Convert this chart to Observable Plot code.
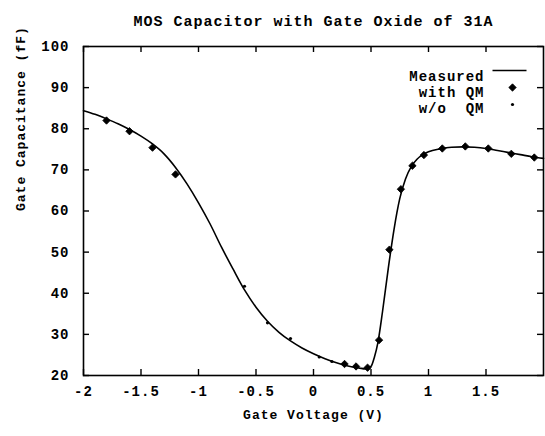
<!DOCTYPE html>
<html><head><meta charset="utf-8">
<script src="https://cdn.jsdelivr.net/npm/d3@7"></script>
<script src="https://cdn.jsdelivr.net/npm/@observablehq/plot@0.6"></script>
<style>
body{margin:0;background:#fff}
svg text{white-space:pre;letter-spacing:1px}
</style>
</head><body><div id="chart"></div>
<script>
// Measured curve
const measuredV = [-2.0,-1.9,-1.8,-1.7,-1.6,-1.5,-1.4,-1.3,-1.2,-1.1,-1.0,-0.9,-0.8,-0.7,-0.6,-0.5,-0.4,-0.3,-0.2,-0.1,0.0,0.1,0.2,0.3,0.4,0.45,0.5,0.53,0.56,0.6,0.65,0.7,0.75,0.8,0.85,0.9,0.95,1.0,1.1,1.2,1.3,1.4,1.5,1.6,1.7,1.8,1.9,2.0];
const measuredC = [84.4,83.5,82.4,81.2,79.8,78.2,76.3,73.9,70.6,66.6,62.0,56.9,51.2,45.9,40.8,36.6,33.2,30.5,28.4,26.7,25.3,24.1,23.1,22.3,21.8,21.6,22.2,24.5,28.0,35.5,46.0,55.5,63.0,67.8,70.8,72.6,73.7,74.4,75.1,75.5,75.6,75.5,75.2,74.7,74.2,73.7,73.2,72.8];
// with QM (diamonds)
const withQMV = [-1.8,-1.6,-1.4,-1.2,0.27,0.37,0.47,0.57,0.66,0.76,0.86,0.96,1.12,1.32,1.52,1.72,1.92];
const withQMC = [82.0,79.4,75.4,68.9,22.8,22.2,21.9,28.6,50.6,65.3,71.0,73.6,75.2,75.7,75.2,73.9,73.0];
// w/o QM (small dots)
const woQMV = [-0.6,-0.4,-0.2,0.05,0.16];
const woQMC = [41.7,32.8,29.0,24.5,23.4];

const xTicks = [-2,-1.5,-1,-0.5,0,0.5,1,1.5];
const yTicks = [20,30,40,50,60,70,80,90,100];
const titleText = "MOS Capacitor with Gate Oxide of 31A";
const xLabel = "Gate Voltage (V)";
const yLabel = "Gate Capacitance (fF)";
const legendLabels = ["Measured","with QM","w/o  QM"];

const measured = measuredV.map((v,i)=>({v, c: measuredC[i]}));
const withQM = withQMV.map((v,i)=>({v, c: withQMC[i]}));
const woQM = woQMV.map((v,i)=>({v, c: woQMC[i]}));

const W=545, H=436, mt=46, mb=61, ml=83, mr=2;
const fh = H-mt-mb, fw = W-ml-mr;
const font = "'Liberation Mono','DejaVu Sans Mono',monospace";
const lineSym = {draw(ctx){ ctx.moveTo(-17,0); ctx.lineTo(17,0); }};
const diamondSym = {draw(ctx){ const r = 3.7; ctx.moveTo(0,-r); ctx.lineTo(r,0); ctx.lineTo(0,r); ctx.lineTo(-r,0); ctx.closePath(); }};

const chart = Plot.plot({
  width: W, height: H,
  marginTop: mt, marginBottom: mb, marginLeft: ml, marginRight: mr,
  style: {fontFamily: font, fontWeight: "bold", fontSize: "14px", color: "black", background: "white"},
  x: {domain: [-2, 2]},
  y: {domain: [20, 100]},
  marks: [
    Plot.frame({stroke: "black", strokeWidth: 1.6}),
    Plot.axisX(xTicks, {tickSize: 0, tickPadding: 11, tickFormat: d => String(d), fontSize: 14, fontWeight: "bold", label: null}),
    Plot.axisY(yTicks, {tickSize: 0, tickPadding: 14, tickFormat: d => String(d), fontSize: 14, fontWeight: "bold", label: null}),
    Plot.tickX(xTicks, {x: d => d, insetTop: fh - 6, stroke: "black", strokeWidth: 1.4}),
    Plot.tickX(xTicks, {x: d => d, insetBottom: fh - 6, stroke: "black", strokeWidth: 1.4}),
    Plot.tickY(yTicks, {y: d => d, insetRight: fw - 6, stroke: "black", strokeWidth: 1.4}),
    Plot.tickY(yTicks, {y: d => d, insetLeft: fw - 6, stroke: "black", strokeWidth: 1.4}),
    Plot.line(measured, {x: "v", y: "c", stroke: "black", strokeWidth: 1.6, curve: "monotone-x"}),
    Plot.dot(withQM, {x: "v", y: "c", symbol: diamondSym, fill: "black", stroke: "black", strokeWidth: 0.8}),
    Plot.dot(woQM, {x: "v", y: "c", r: 1.6, fill: "black"}),
    // title and axis labels
    Plot.text([titleText], {frameAnchor: "top", dy: -31, fontSize: 15, fontWeight: "bold"}),
    Plot.text([xLabel], {frameAnchor: "bottom", dy: 43, fontSize: 13, fontWeight: "bold"}),
    Plot.text([yLabel], {frameAnchor: "left", dx: -63, rotate: -90, fontSize: 13, fontWeight: "bold"}),
    // legend
    Plot.text([legendLabels[0]], {frameAnchor: "top-right", dx: -59, dy: 25, textAnchor: "end", fontSize: 14, fontWeight: "bold"}),
    Plot.text([legendLabels[1]], {frameAnchor: "top-right", dx: -59, dy: 41, textAnchor: "end", fontSize: 14, fontWeight: "bold"}),
    Plot.text([legendLabels[2]], {frameAnchor: "top-right", dx: -59, dy: 57, textAnchor: "end", fontSize: 14, fontWeight: "bold"}),
    Plot.dot([0], {frameAnchor: "top-right", dx: -34, dy: 24, symbol: lineSym, stroke: "black", strokeWidth: 1.6, fill: "none"}),
    Plot.dot([0], {frameAnchor: "top-right", dx: -31, dy: 41, symbol: diamondSym, fill: "black", stroke: "black", strokeWidth: 0.8}),
    Plot.dot([0], {frameAnchor: "top-right", dx: -31, dy: 58, r: 1.6, fill: "black"})
  ]
});
document.getElementById("chart").appendChild(chart);
</script>
</body></html>
